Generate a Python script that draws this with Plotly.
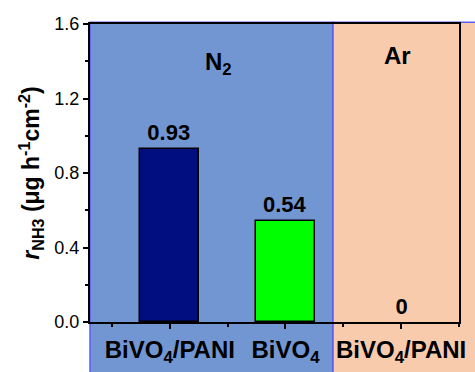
import plotly.graph_objects as go

categories = ["BiVO<sub>4</sub>/PANI", "BiVO<sub>4</sub>", "BiVO<sub>4</sub>/PANI"]
values = [0.93, 0.54, 0.0]
value_labels = ["0.93", "0.54", "0"]
bar_colors = ["#000E80", "#00FF00", "#000E80"]
atmospheres = ["N<sub>2</sub>", "Ar"]

xpos = list(range(len(categories)))
FONT = "Liberation Sans, Arial, sans-serif"

fig = go.Figure()
fig.add_trace(go.Bar(
    x=xpos, y=values, width=0.51,
    marker=dict(color=bar_colors, line=dict(color="black", width=[1.5 if v > 0 else 0 for v in values])),
    text=["<b>%s</b>" % t for t in value_labels], textposition="outside",
    textfont=dict(family=FONT, size=22, color="black"),
    cliponaxis=False,
))

# background panels
fig.add_shape(type="rect", xref="paper", yref="paper", x0=0, x1=0.6585, y0=-0.2, y1=1.006,
              fillcolor="#7296D2", line=dict(color="#5B5BF5", width=1.5), layer="below")
fig.add_shape(type="rect", xref="paper", yref="paper", x0=0.6585, x1=1.1, y0=-0.2, y1=1.006,
              fillcolor="#F8CBAD", line=dict(color="#5B5BF5", width=1.5), layer="below")

fig.add_annotation(x=0.42, y=1.39, xref="x", yref="y", text="<b>%s</b>" % atmospheres[0],
                   showarrow=False, font=dict(family=FONT, size=24, color="black"))
fig.add_annotation(x=1.97, y=1.43, xref="x", yref="y", text="<b>%s</b>" % atmospheres[1],
                   showarrow=False, font=dict(family=FONT, size=24, color="black"))

fig.update_layout(
    width=475, height=372,
    margin=dict(l=90, r=16, t=24, b=50),
    paper_bgcolor="white", plot_bgcolor="rgba(0,0,0,0)",
    showlegend=False,
    font=dict(family=FONT, color="black"),
    xaxis=dict(
        range=[-0.69, 2.5], tickmode="array", tickvals=xpos,
        ticktext=["<b>%s</b>" % c for c in categories],
        tickfont=dict(family=FONT, size=24, color="black"),
        ticks="outside", ticklen=5, tickwidth=1.5, tickcolor="black",
        minor=dict(tick0=-0.5, dtick=1, ticks="outside", ticklen=3, tickwidth=1.5, tickcolor="black"),
        showline=True, linecolor="black", linewidth=2, mirror=True,
        showgrid=False, zeroline=False, automargin=False,
    ),
    yaxis=dict(
        range=[0, 1.6], dtick=0.4, tickformat=".1f",
        tickfont=dict(family=FONT, size=18, color="black"),
        ticks="outside", ticklen=5, tickwidth=1.5, tickcolor="black",
        minor=dict(dtick=0.2, ticks="outside", ticklen=3, tickwidth=1.5, tickcolor="black"),
        showline=True, linecolor="black", linewidth=2, mirror=True,
        showgrid=False, zeroline=False, automargin=False,
        title=dict(text="<b><i>r</i><sub>NH3</sub> (μg h<sup>-1</sup>cm<sup>-2</sup>)</b>",
                   font=dict(family=FONT, size=23, color="black"), standoff=8),
    ),
    bargap=0,
)

fig.write_html("out.html")
